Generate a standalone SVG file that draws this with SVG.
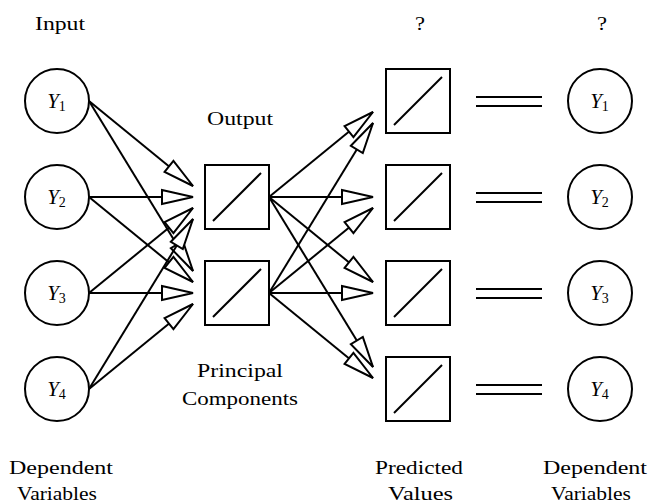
<svg xmlns="http://www.w3.org/2000/svg" width="656" height="503" viewBox="0 0 656 503">
<style>
.n{fill:#fff;stroke:#000;stroke-width:2}
.d{stroke:#000;stroke-width:2;fill:none}
.c line{stroke:#000;stroke-width:2;marker-end:url(#ah)}
.t{font-family:"Liberation Serif","Times New Roman",Times,serif;font-size:19px;fill:#000}
.y{font-family:"Liberation Serif","Times New Roman",Times,serif;font-size:21px;font-style:italic;fill:#000;text-anchor:middle}
.s{font-size:14px;font-style:normal}
.eq line{stroke:#000;stroke-width:2}
</style>
<defs>
<marker id="ah" markerUnits="userSpaceOnUse" viewBox="-3 -3 37 20" markerWidth="37" markerHeight="20" refX="31" refY="7" orient="auto">
<path d="M0,0 L31,7 L0,14 Z" fill="#fff" stroke="#000" stroke-width="2" stroke-linejoin="miter"/>
</marker>
</defs>
<rect width="656" height="503" fill="#fff"/>
<g id="connectors" class="c">
<line x1="89" y1="101" x2="193" y2="186"/>
<line x1="89" y1="101" x2="193" y2="271"/>
<line x1="89" y1="197" x2="193" y2="197"/>
<line x1="89" y1="197" x2="193" y2="282"/>
<line x1="89" y1="293" x2="193" y2="208"/>
<line x1="89" y1="293" x2="193" y2="293"/>
<line x1="89" y1="389" x2="193" y2="219"/>
<line x1="89" y1="389" x2="193" y2="304"/>
<line x1="269" y1="197" x2="373" y2="112"/>
<line x1="269" y1="197" x2="373" y2="197"/>
<line x1="269" y1="197" x2="373" y2="282"/>
<line x1="269" y1="197" x2="373" y2="367"/>
<line x1="269" y1="293" x2="373" y2="123"/>
<line x1="269" y1="293" x2="373" y2="208"/>
<line x1="269" y1="293" x2="373" y2="293"/>
<line x1="269" y1="293" x2="373" y2="378"/>
</g>
<g id="eq" class="eq">
<line x1="476" y1="97" x2="542" y2="97"/><line x1="476" y1="106" x2="542" y2="106"/>
<line x1="476" y1="193" x2="542" y2="193"/><line x1="476" y1="202" x2="542" y2="202"/>
<line x1="476" y1="289" x2="542" y2="289"/><line x1="476" y1="298" x2="542" y2="298"/>
<line x1="476" y1="385" x2="542" y2="385"/><line x1="476" y1="394" x2="542" y2="394"/>
</g>
<g id="in1"><circle class="n" cx="57" cy="101" r="32"/><text class="y" x="56.5" y="108">Y<tspan class="s" dy="3">1</tspan></text></g>
<g id="in2"><circle class="n" cx="57" cy="197" r="32"/><text class="y" x="56.5" y="204">Y<tspan class="s" dy="3">2</tspan></text></g>
<g id="in3"><circle class="n" cx="57" cy="293" r="32"/><text class="y" x="56.5" y="300">Y<tspan class="s" dy="3">3</tspan></text></g>
<g id="in4"><circle class="n" cx="57" cy="389" r="32"/><text class="y" x="56.5" y="396">Y<tspan class="s" dy="3">4</tspan></text></g>
<g id="pc1"><rect class="n" x="205" y="165" width="64" height="64"/><line class="d" x1="213" y1="221" x2="261" y2="173"/></g>
<g id="pc2"><rect class="n" x="205" y="261" width="64" height="64"/><line class="d" x1="213" y1="317" x2="261" y2="269"/></g>
<g id="pv1"><rect class="n" x="386" y="69" width="64" height="64"/><line class="d" x1="394" y1="125" x2="442" y2="77"/></g>
<g id="pv2"><rect class="n" x="386" y="165" width="64" height="64"/><line class="d" x1="394" y1="221" x2="442" y2="173"/></g>
<g id="pv3"><rect class="n" x="386" y="261" width="64" height="64"/><line class="d" x1="394" y1="317" x2="442" y2="269"/></g>
<g id="pv4"><rect class="n" x="386" y="357" width="64" height="64"/><line class="d" x1="394" y1="413" x2="442" y2="365"/></g>
<g id="out1"><circle class="n" cx="600" cy="101" r="32"/><text class="y" x="599.5" y="108">Y<tspan class="s" dy="3">1</tspan></text></g>
<g id="out2"><circle class="n" cx="600" cy="197" r="32"/><text class="y" x="599.5" y="204">Y<tspan class="s" dy="3">2</tspan></text></g>
<g id="out3"><circle class="n" cx="600" cy="293" r="32"/><text class="y" x="599.5" y="300">Y<tspan class="s" dy="3">3</tspan></text></g>
<g id="out4"><circle class="n" cx="600" cy="389" r="32"/><text class="y" x="599.5" y="396">Y<tspan class="s" dy="3">4</tspan></text></g>
<g id="labels">
<text class="t" x="35" y="30" textLength="50" lengthAdjust="spacingAndGlyphs">Input</text>
<text class="t" x="415" y="30" textLength="10" lengthAdjust="spacingAndGlyphs">?</text>
<text class="t" x="597" y="30" textLength="10" lengthAdjust="spacingAndGlyphs">?</text>
<text class="t" x="207" y="125" textLength="66" lengthAdjust="spacingAndGlyphs">Output</text>
<text class="t" x="197" y="377" textLength="86" lengthAdjust="spacingAndGlyphs">Principal</text>
<text class="t" x="182" y="405" textLength="116" lengthAdjust="spacingAndGlyphs">Components</text>
<text class="t" x="9" y="474" textLength="104" lengthAdjust="spacingAndGlyphs">Dependent</text>
<text class="t" x="17" y="500" textLength="80" lengthAdjust="spacingAndGlyphs">Variables</text>
<text class="t" x="375" y="474" textLength="88" lengthAdjust="spacingAndGlyphs">Predicted</text>
<text class="t" x="388" y="500" textLength="65" lengthAdjust="spacingAndGlyphs">Values</text>
<text class="t" x="543" y="474" textLength="104" lengthAdjust="spacingAndGlyphs">Dependent</text>
<text class="t" x="551" y="500" textLength="80" lengthAdjust="spacingAndGlyphs">Variables</text>
</g>
</svg>
